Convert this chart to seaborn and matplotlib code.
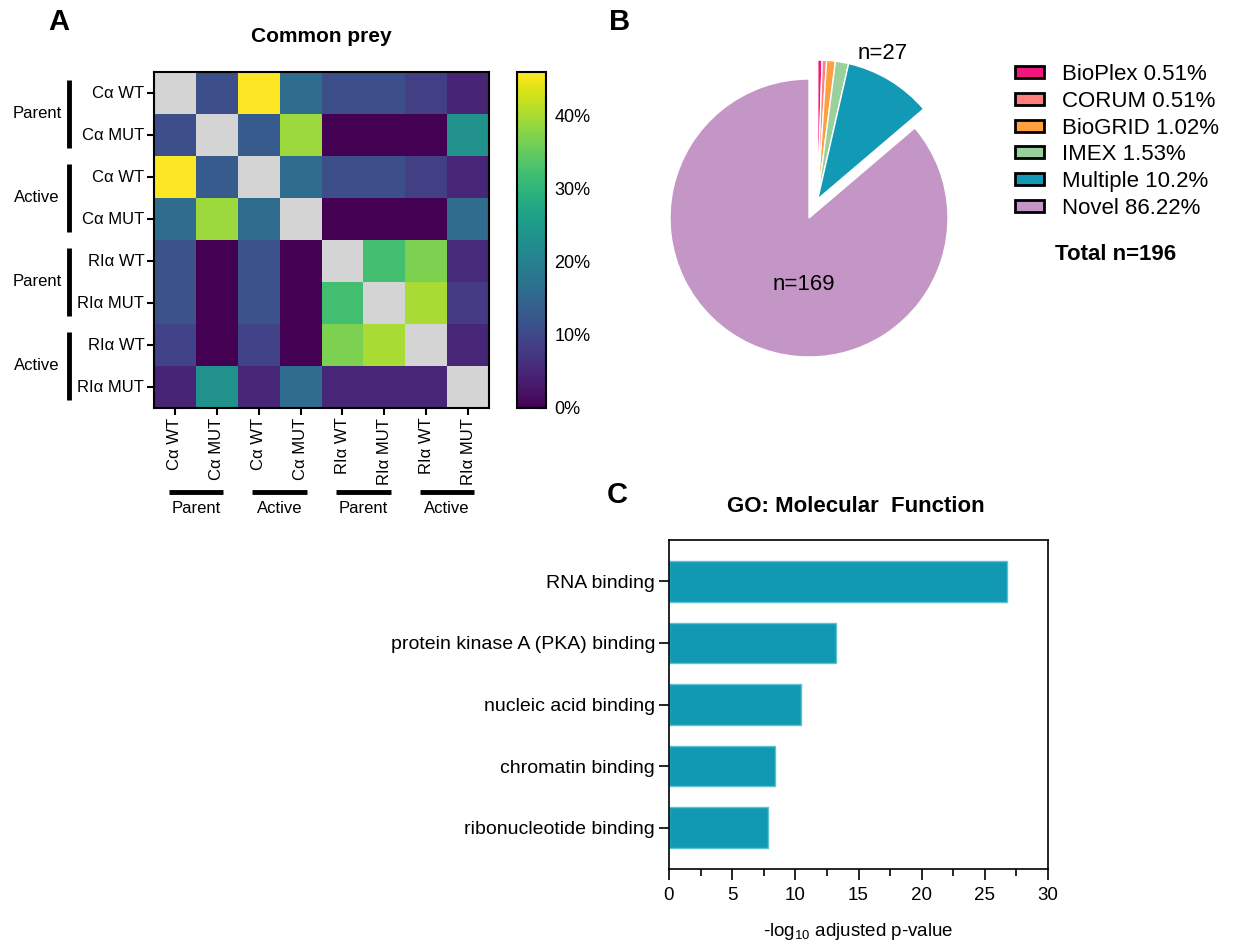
import numpy as np
import seaborn as sns
import matplotlib.pyplot as plt
from matplotlib.patches import Patch
from matplotlib.transforms import blended_transform_factory

sns.set_style("ticks")
plt.rcParams['font.family'] = ['Liberation Sans', 'DejaVu Sans']
plt.rcParams['mathtext.default'] = 'regular'
plt.rcParams['text.color'] = 'black'
plt.rcParams['axes.labelcolor'] = 'black'
plt.rcParams['xtick.color'] = 'black'
plt.rcParams['ytick.color'] = 'black'

# ---- panel A: common prey overlap (%) ----
conditions = ["Cα WT", "Cα MUT", "Cα WT", "Cα MUT",
              "RIα WT", "RIα MUT", "RIα WT", "RIα MUT"]
groups = ["Parent", "Active", "Parent", "Active"]
nan = np.nan
common_prey = np.array([
    [nan, 11, 46, 16, 11, 11, 8.5, 4.5],
    [11, nan, 13, 39, 0, 0, 0, 23],
    [46, 13, nan, 16, 11, 11, 8.5, 5],
    [16, 39, 16, nan, 0, 0, 0, 16],
    [11.5, 0, 11.5, 0, nan, 32, 37, 5.5],
    [11.5, 0, 11.5, 0, 32, nan, 40, 8],
    [9, 0, 9, 0, 37, 40, nan, 5],
    [4.5, 23, 5, 16, 5, 5, 5, nan],
])
cbar_ticks = [0, 10, 20, 30, 40]

# ---- panel B: interaction sources ----
sources = ["BioPlex", "CORUM", "BioGRID", "IMEX", "Multiple", "Novel"]
source_counts = [1, 1, 2, 3, 20, 169]
source_colors = ["#f2177e", "#ff7f7f", "#ffa040", "#9ad09b", "#1299b5", "#c396c5"]

# ---- panel C: GO molecular function ----
go_terms = ["RNA binding", "protein kinase A (PKA) binding", "nucleic acid binding",
            "chromatin binding", "ribonucleotide binding"]
go_scores = [26.75, 13.2, 10.42, 8.38, 7.85]

W, H = 1233, 943
fig = plt.figure(figsize=(W / 100, H / 100), dpi=100)


def box(x0, y0, x1, y1):
    # pixel box (top-left origin) -> figure fraction rect
    return [x0 / W, 1 - y1 / H, (x1 - x0) / W, (y1 - y0) / H]


# ---------- A ----------
ax = fig.add_axes(box(154, 72, 489, 408))
cax = fig.add_axes(box(517, 72, 546, 408))
sns.heatmap(common_prey, cmap="viridis", vmin=0, vmax=46, ax=ax, cbar_ax=cax,
            xticklabels=conditions, yticklabels=conditions)
ax.set_facecolor("#d4d4d4")
for s in ax.spines.values():
    s.set_visible(True)
    s.set_linewidth(1.5)
    s.set_color("black")
ax.tick_params(length=5, width=1.5, color="black", labelsize=12, pad=2)
plt.setp(ax.get_xticklabels(), rotation=90)
plt.setp(ax.get_yticklabels(), rotation=0)

cbar = ax.collections[0].colorbar
cbar.set_ticks(cbar_ticks)
cbar.set_ticklabels([f"{t}%" for t in cbar_ticks])
cbar.outline.set_edgecolor("black")
cbar.outline.set_linewidth(1.5)
cax.tick_params(direction="in", left=True, right=True, length=5, width=1.5,
                labelsize=13, pad=6)

ty = blended_transform_factory(ax.transAxes, ax.transData)
tx = blended_transform_factory(ax.transData, ax.transAxes)
for k, g in enumerate(groups):
    c = 2 * k + 1
    ax.plot([-0.254, -0.254], [c - 0.8, c + 0.8], color="black", lw=3.5,
            transform=ty, clip_on=False, solid_capstyle="butt")
    ax.text(-0.35, c, g, transform=ty, ha="center", va="center", fontsize=12)
    ax.plot([c - 0.65, c + 0.65], [-0.25, -0.25], color="black", lw=3.5,
            transform=tx, clip_on=False, solid_capstyle="butt")
    ax.text(c, -0.30, g, transform=tx, ha="center", va="center", fontsize=12)

fig.text(321 / W, 1 - 36 / H, "Common prey", ha="center", va="center",
         fontsize=15, fontweight="bold")
fig.text(59 / W, 1 - 22 / H, "A", ha="center", va="center", fontsize=21,
         fontweight="bold")

# ---------- B ----------
r_px = 139
cx, cy = 809, 218
pax = fig.add_axes(box(cx - 1.25 * r_px, cy - 1.25 * r_px, cx + 1.25 * r_px, cy + 1.25 * r_px))
wedges, _ = pax.pie(source_counts, colors=source_colors, startangle=90,
                    counterclock=False,
                    wedgeprops=dict(edgecolor="white", linewidth=1))
total = sum(source_counts)
known = sum(source_counts[:-1])
mid = np.deg2rad(90 - 360 * known / total / 2)
for w in wedges[:-1]:
    w.set_center((0.15 * np.cos(mid), 0.15 * np.sin(mid)))
pax.set_xlim(-1.25, 1.25)
pax.set_ylim(-1.25, 1.25)
pax.text(0.53, 1.18, f"n={known}", ha="center", va="center", fontsize=16)
pax.text(-0.04, -0.48, f"n={source_counts[-1]}", ha="center", va="center", fontsize=16)

handles = [Patch(facecolor=c, edgecolor="black", linewidth=2) for c in source_colors]
labels = [f"{s} {round(n / total * 100, 2):g}%" for s, n in zip(sources, source_counts)]
fig.legend(handles, labels, loc="upper left", bbox_to_anchor=(1015 / W, 1 - 64 / H),
           frameon=False, fontsize=16, handlelength=1.3, handleheight=0.45,
           handletextpad=0.8, labelspacing=0.26, borderaxespad=0, borderpad=0)
fig.text(1116 / W, 1 - 255 / H, f"Total n={total}", ha="center", va="center",
         fontsize=16, fontweight="bold")
fig.text(620 / W, 1 - 22 / H, "B", ha="center", va="center", fontsize=21,
         fontweight="bold")

# ---------- C ----------
bax = fig.add_axes(box(669, 540, 1048, 869))
sns.barplot(x=go_scores, y=go_terms, color="#1199b4", saturation=1, width=0.66,
            edgecolor="#5cc3d6", linewidth=1, orient="h", ax=bax)
bax.set_xlim(0, 30)
bax.set_ylim(4.67, -0.67)
bax.set_xticks(range(0, 31, 5))
bax.set_xticks(np.arange(2.5, 30, 5), minor=True)
for s in bax.spines.values():
    s.set_linewidth(1.2)
    s.set_color("black")
bax.tick_params(axis="y", which="major", length=7, width=1.2, labelsize=14, pad=3)
bax.tick_params(axis="x", which="major", length=8, width=1.2, labelsize=13.5, pad=5)
bax.tick_params(axis="x", which="minor", length=5, width=1.2, bottom=True)
bax.set_xlabel("-log$_{10}$ adjusted p-value", fontsize=13.5, labelpad=12)
bax.set_ylabel("")
fig.text(856 / W, 1 - 507 / H, "GO: Molecular  Function", ha="center", va="center",
         fontsize=16, fontweight="bold")
fig.text(617 / W, 1 - 495 / H, "C", ha="center", va="center", fontsize=21,
         fontweight="bold")

fig.savefig("out.png", dpi=100)
